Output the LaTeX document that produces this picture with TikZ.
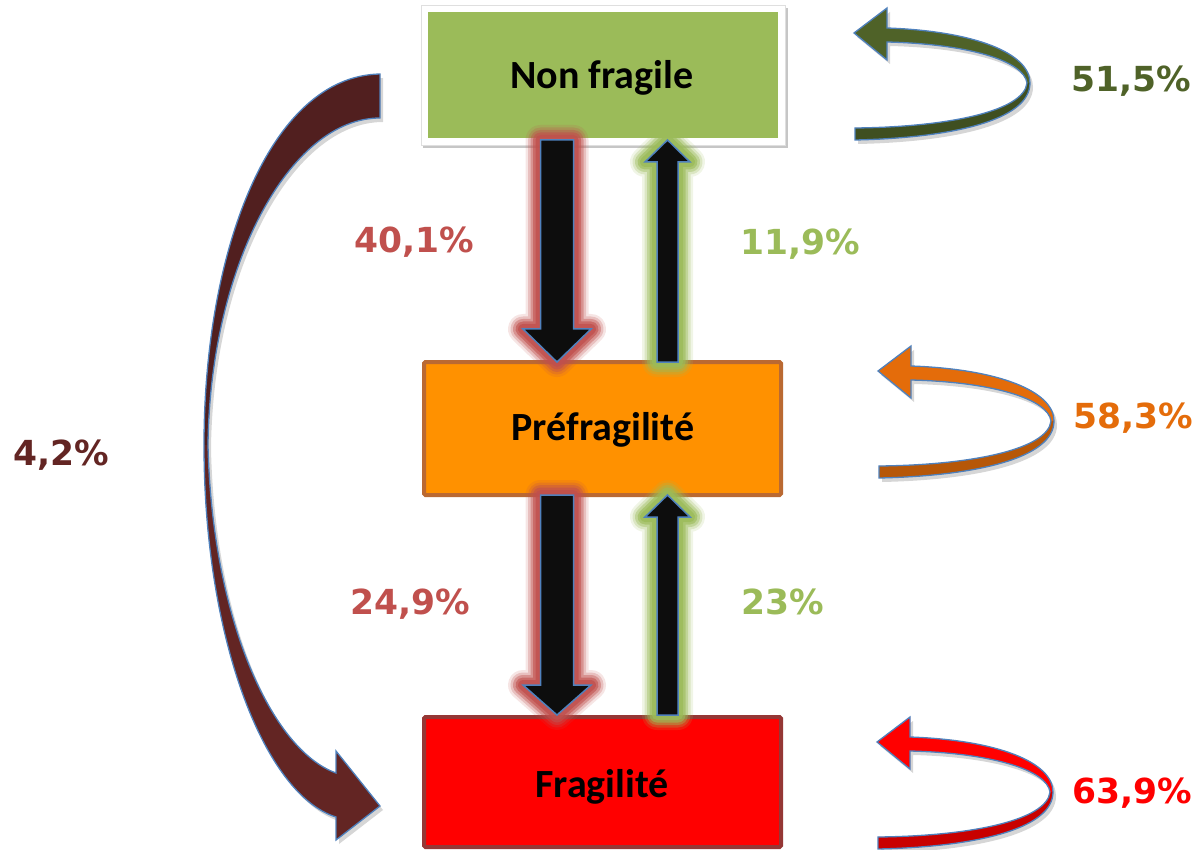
\documentclass[tikz,border=0pt]{standalone}
\usepackage{fontspec}
\setmainfont{Carlito}
\newfontfamily\pctfont{DejaVu Sans}
\usetikzlibrary{calc}

\definecolor{nfgreen}{RGB}{155,187,89}
\definecolor{pforange}{RGB}{255,145,0}
\definecolor{pfborder}{RGB}{186,105,50}
\definecolor{frborder}{RGB}{149,55,53}
\definecolor{edgeblue}{RGB}{79,129,189}
\definecolor{glowred}{RGB}{192,80,77}
\definecolor{glowgreen}{RGB}{155,187,89}
\definecolor{arrowblack}{RGB}{13,13,13}
\definecolor{olive}{RGB}{79,98,40}
\definecolor{olivedark}{RGB}{63,79,32}
\definecolor{looporange}{RGB}{228,108,10}
\definecolor{looporangedark}{RGB}{182,87,8}
\definecolor{loopred}{RGB}{255,0,0}
\definecolor{loopreddark}{RGB}{200,0,0}
\definecolor{brownA}{RGB}{81,31,31}
\definecolor{brownB}{RGB}{99,37,35}

% block arrow outline from start point #1 to tip #2
% #3 shaft half width, #4 head half width, #5 head length
\newcommand\blockpath[5]{%
  \coordinate (hb) at ($(#2)!#5pt!(#1)$);
  \coordinate (sa) at ($(#1)+(-#3,0)$);
  \coordinate (sb) at ($(#1)+(#3,0)$);
  \coordinate (hc) at ($(hb)+(#3,0)$);
  \coordinate (hd) at ($(hb)+(#4,0)$);
  \coordinate (he) at ($(hb)+(-#4,0)$);
  \coordinate (hf) at ($(hb)+(-#3,0)$);
}
% glowing black block arrow: #1 start, #2 tip, #3 glow colour, #4 shaft, #5 head, #6 head length
\newcommand\glowarrow[6]{%
  \blockpath{#1}{#2}{#4}{#5}{#6}
  \foreach \w/\o in {30/0.15,25/0.25,20/0.4,15/0.6,10/0.8}{
    \draw[#3, line width=\w pt, opacity=\o, line join=round]
      (sa) -- (sb) -- (hc) -- (hd) -- (#2) -- (he) -- (hf) -- cycle;
  }
  \draw[fill=arrowblack, draw=edgeblue, line width=1.5pt, line join=miter]
    (sa) -- (sb) -- (hc) -- (hd) -- (#2) -- (he) -- (hf) -- cycle;
}
% self loop ribbon, drawn around its tip at the origin: #1 upper colour, #2 lower colour
\newcommand\selfloop[2]{%
  \fill[gray!40, opacity=0.8, shift={(3,4)}]
    (1,107) .. controls (95,105) and (176,88) .. (176,50)
    .. controls (176,20) and (120,-2) .. (33,-5) -- (33,-25) -- (0,0) -- (33,27) -- (33,9)
    .. controls (115,11) and (170,28) .. (173,50)
    .. controls (170,78) and (95,94) .. (1,95) -- cycle;
  \fill[#2] (1,107) .. controls (95,105) and (176,88) .. (176,50)
    -- (173,50) .. controls (170,78) and (95,94) .. (1,95) -- cycle;
  \fill[#1] (176,50) .. controls (176,20) and (120,-2) .. (33,-5) -- (33,-25) -- (0,0)
    -- (33,27) -- (33,9) .. controls (115,11) and (170,28) .. (173,50) -- cycle;
  \draw[edgeblue, line width=1.3pt, line join=miter]
    (1,107) .. controls (95,105) and (176,88) .. (176,50)
    .. controls (176,20) and (120,-2) .. (33,-5) -- (33,-25) -- (0,0) -- (33,27) -- (33,9)
    .. controls (115,11) and (170,28) .. (173,50)
    .. controls (170,78) and (95,94) .. (1,95) -- cycle;
}

\begin{document}
\begin{tikzpicture}[x=1pt, y=-1pt,
  statebox/.style={minimum width=357pt, inner sep=0pt, line width=4pt, rounded corners=1.5pt},
  boxtext/.style={anchor=base, font=\bfseries\fontsize{40}{42}\selectfont, text=black, inner sep=0pt},
  pct/.style={anchor=base, font=\pctfont\bfseries\fontsize{34.5}{37}\selectfont, inner sep=0pt}]
\useasboundingbox (0,0) rectangle (1197,850);

% state boxes
\fill[gray!45] (423,8) rectangle (788,148);
\node[statebox, fill=nfgreen, draw=white, line width=7pt, rounded corners=0pt,
      minimum height=133pt] (nf) at (603,75) {};
\draw[gray!25, line width=0.8pt] (nf.south west) rectangle (nf.north east);
\node[statebox, fill=pforange, draw=pfborder, minimum height=133pt] (pf) at (602.5,428.5) {};
\node[statebox, fill=red, draw=frborder, minimum height=130pt] (fr) at (602.5,782) {};

\node[boxtext] (nft) at (602,89) {Non fragile};
\node[boxtext] (pft) at (603,440) {Préfragilité};
\node[boxtext] (frt) at (602,797) {Fragilité};

% transitions between neighbouring states
\coordinate (d1s) at ($(nf.south)+(-46,-5)$);
\coordinate (d1t) at ($(pf.north)+(-45.5,2)$);
\glowarrow{d1s}{d1t}{glowred}{16.5}{34}{33}
\coordinate (u1s) at ($(pf.north)+(65,2)$);
\coordinate (u1t) at ($(nf.south)+(64.5,-5)$);
\glowarrow{u1s}{u1t}{glowgreen}{10.5}{22.5}{22}
\coordinate (d2s) at ($(pf.south)+(-45.5,-2)$);
\coordinate (d2t) at ($(fr.north)+(-45.5,0)$);
\glowarrow{d2s}{d2t}{glowred}{16.5}{34}{30}
\coordinate (u2s) at ($(fr.north)+(65,0)$);
\coordinate (u2t) at ($(pf.south)+(65,-2)$);
\glowarrow{u2s}{u2t}{glowgreen}{10.5}{22.5}{22}

% long transition from non fragile to fragile
\fill[gray!40, opacity=0.8, shift={(3,4)}]
  (380,74) .. controls (270,76) and (204,250) .. (204,445)
  .. controls (204,640) and (265,795) .. (336,817) -- (336,840) -- (380,806) -- (336,751) -- (336,773)
  .. controls (272,750) and (212,620) .. (208,445)
  .. controls (210,265) and (290,118) .. (380,118) -- cycle;
\fill[brownA] (380,74) .. controls (270,76) and (204,250) .. (204,445) -- (208,445)
  .. controls (210,265) and (290,118) .. (380,118) -- cycle;
\fill[brownB] (204,445) .. controls (204,640) and (265,795) .. (336,817) -- (336,840) -- (380,806)
  -- (336,751) -- (336,773) .. controls (272,750) and (212,620) .. (208,445) -- cycle;
\draw[edgeblue, line width=1.3pt, line join=miter]
  (380,74) .. controls (270,76) and (204,250) .. (204,445)
  .. controls (204,640) and (265,795) .. (336,817) -- (336,840) -- (380,806) -- (336,751) -- (336,773)
  .. controls (272,750) and (212,620) .. (208,445)
  .. controls (210,265) and (290,118) .. (380,118) -- cycle;

% self loops
\begin{scope}[shift={(854,33)}]\selfloop{olive}{olivedark}\end{scope}
\begin{scope}[shift={(878,371)}]\selfloop{looporange}{looporangedark}\end{scope}
\begin{scope}[shift={(877,742)}]\selfloop{loopred}{loopreddark}\end{scope}

% transition rates
\node[pct, text=glowred] (p1) at (414,253) {40,1\%};
\node[pct, text=nfgreen] (p2) at (800,255) {11,9\%};
\node[pct, text=glowred] (p3) at (410,614) {24,9\%};
\node[pct, text=nfgreen] (p4) at (783,614) {23\%};
\node[pct, text=brownB] (p5) at (61,465) {4,2\%};
\node[pct, text=olive] (p6) at (1131,92) {51,5\%};
\node[pct, text=looporange] (p7) at (1133,428) {58,3\%};
\node[pct, text=loopred] (p8) at (1132,803) {63,9\%};
\end{tikzpicture}
\end{document}
